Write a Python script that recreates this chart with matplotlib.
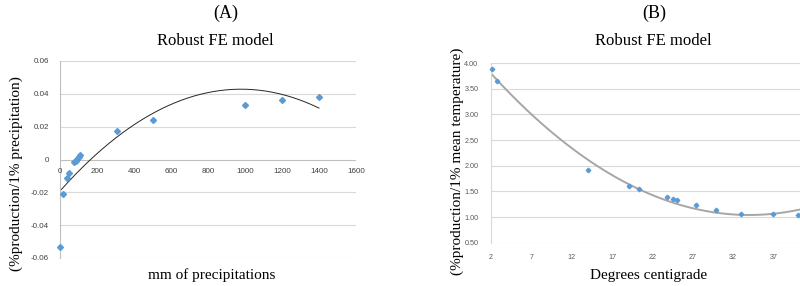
import numpy as np
import matplotlib
matplotlib.use("Agg")
import matplotlib.pyplot as plt

# ---- Panel A data (precipitation) ----
precip_x = [0, 18, 36, 49, 76, 84, 92, 100, 108, 310, 500, 1000, 1200, 1400]
precip_y = [-0.0535, -0.021, -0.0113, -0.0083, -0.0018, -0.0008, 0.0005, 0.0018, 0.003,
            0.0174, 0.024, 0.0335, 0.0362, 0.0382]
# quadratic trend line coefficients (c0, c1, c2)
precip_trend = [-0.0192, 1.268e-4, -6.48e-8]
precip_xticks = [0, 200, 400, 600, 800, 1000, 1200, 1400, 1600]
precip_yticks = [-0.06, -0.04, -0.02, 0, 0.02, 0.04, 0.06]
precip_ytick_labels = ["-0.06", "-0.04", "-0.02", "0", "0.02", "0.04", "0.06"]

# ---- Panel B data (temperature) ----
temp_x = [2.1, 2.7, 14.05, 19.05, 20.4, 23.8, 24.55, 25.1, 27.4, 29.9, 33.0, 37.0, 40.0]
temp_y = [3.88, 3.66, 1.92, 1.61, 1.54, 1.385, 1.346, 1.33, 1.24, 1.14, 1.05, 1.05, 1.045]
# quadratic trend: a*(x - xmin)^2 + ymin
temp_trend = [0.002695, 34.0, 1.04]
temp_xticks = [2, 7, 12, 17, 22, 27, 32, 37]
temp_yticks = [0.5, 1.0, 1.5, 2.0, 2.5, 3.0, 3.5, 4.0]

blue = "#5b9bd5"
grid_c = "#d9d9d9"
axis_c = "#bfbfbf"
tick_c = "#404040"

fig = plt.figure(figsize=(8, 2.86), dpi=100)
W, H = 800, 286

def box(l, t, r, b):
    return [l / W, 1 - b / H, (r - l) / W, (b - t) / H]

serif = "Liberation Serif"
sans = "Liberation Sans"

# ---------------- Panel A ----------------
axA = fig.add_axes(box(60, 61, 356, 258))
axA.set_xlim(0, 1600)
axA.set_ylim(-0.06, 0.06)
for yv in precip_yticks:
    axA.axhline(yv, color=grid_c if yv != 0 else axis_c, lw=0.8, zorder=0)
for s in ["top", "right", "bottom"]:
    axA.spines[s].set_visible(False)
axA.spines["left"].set_color(axis_c)
axA.spines["left"].set_linewidth(0.8)
axA.set_yticks(precip_yticks)
axA.set_yticklabels(precip_ytick_labels, fontsize=5.8, fontfamily=sans, color=tick_c)
axA.tick_params(axis="y", length=0, pad=8)
axA.set_xticks([])
for xv in precip_xticks:
    axA.text(xv, -0.0052, str(xv), ha="center", va="top", fontsize=5.8,
             fontfamily=sans, color=tick_c, clip_on=False)
xx = np.linspace(0, 1400, 200)
yy = precip_trend[0] + precip_trend[1] * xx + precip_trend[2] * xx ** 2
axA.plot(xx, yy, color="#262626", lw=0.7, zorder=2)
axA.plot(precip_x, precip_y, ls="none", marker="D", ms=3.0, color=blue, zorder=3,
         clip_on=False)

fig.text(226 / W, 1 - 13 / H, "(A)", ha="center", va="center", fontsize=13, fontfamily=serif)
fig.text(215 / W, 1 - 41 / H, "Robust FE model", ha="center", va="center", fontsize=12,
         fontfamily=serif)
fig.text(212 / W, 1 - 275 / H, "mm of precipitations", ha="center", va="center",
         fontsize=11, fontfamily=serif)
fig.text(16 / W, 1 - 174 / H, "(%production/1% precipitation)", ha="center", va="center",
         rotation=90, fontsize=11, fontfamily=serif)

# ---------------- Panel B ----------------
axB = fig.add_axes(box(491, 63.2, 800, 242.7))
axB.set_xlim(2, 40.3)
axB.set_ylim(0.5, 4.0)
for yv in temp_yticks:
    axB.axhline(yv, color=grid_c, lw=0.8, zorder=0)
for s in ["top", "right", "bottom"]:
    axB.spines[s].set_visible(False)
axB.spines["left"].set_color(grid_c)
axB.spines["left"].set_linewidth(0.8)
axB.set_yticks(temp_yticks)
axB.set_yticklabels([f"{v:.2f}" for v in temp_yticks], fontsize=5.2, fontfamily=sans,
                    color="#595959")
axB.set_xticks(temp_xticks)
axB.set_xticklabels([str(v) for v in temp_xticks], fontsize=5.2, fontfamily=sans,
                    color="#595959")
axB.tick_params(axis="y", length=0, pad=9)
axB.tick_params(axis="x", length=0, pad=8)
tx = np.linspace(2, 40.3, 200)
ty = temp_trend[0] * (tx - temp_trend[1]) ** 2 + temp_trend[2]
axB.plot(tx, ty, color="#a6a6a6", lw=1.4, zorder=2)
axB.plot(temp_x, temp_y, ls="none", marker="D", ms=2.3, color=blue, zorder=3,
         clip_on=False)

fig.text(654 / W, 1 - 13 / H, "(B)", ha="center", va="center", fontsize=13, fontfamily=serif)
fig.text(653 / W, 1 - 41 / H, "Robust FE model", ha="center", va="center", fontsize=12,
         fontfamily=serif)
fig.text(649 / W, 1 - 275 / H, "Degrees centigrade", ha="center", va="center",
         fontsize=11, fontfamily=serif)
fig.text(457 / W, 1 - 161 / H, "(%production/1% mean temperature)", ha="center",
         va="center", rotation=90, fontsize=11, fontfamily=serif)

fig.savefig("out.png", dpi=100)
